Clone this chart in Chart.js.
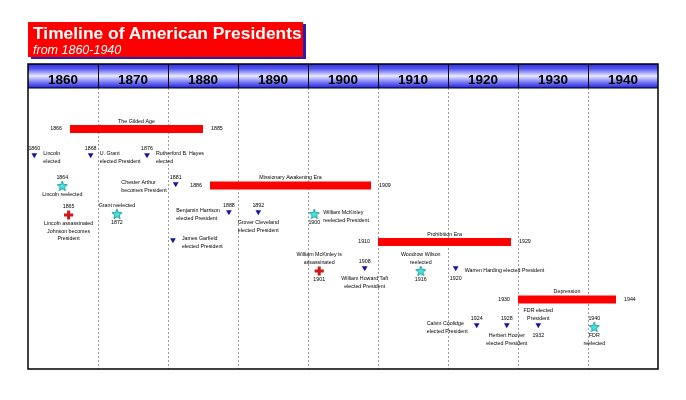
<!DOCTYPE html>
<html>
<head>
<meta charset="utf-8">
<script src="https://cdn.jsdelivr.net/npm/chart.js@4.4.0/dist/chart.umd.min.js"></script>
<style>
  body { margin: 0; background: #fff; }
  #wrap { position: relative; width: 686px; height: 400px; }
  #title {
    position: absolute; left: 28px; top: 22px; width: 275px; height: 35px;
    background: #ff0000; box-shadow: 3px 2px 0 #2222b0;
    font-family: Arial, "Liberation Sans", sans-serif; color: #fff;
  }
  #title .main { position: absolute; left: 5px; top: 2.7px; font-size: 17.4px; line-height: 17.4px; font-weight: bold; white-space: nowrap; }
  #title .sub { position: absolute; left: 5px; top: 22.4px; font-size: 12.5px; line-height: 12.5px; font-style: italic; white-space: nowrap; }
</style>
</head>
<body>
<div id="wrap">
  <canvas id="timeline" width="686" height="400"></canvas>
  <div id="title"><span class="main">Timeline of American Presidents</span><span class="sub">from 1860-1940</span></div>
</div>
<script>
// decade columns in the header
const decades = [1860, 1870, 1880, 1890, 1900, 1910, 1920, 1930, 1940];

// eras (red bars)
const eraNames = ['The Gilded Age', 'Missionary Awakening Era', 'Prohibition Era', 'Depression'];
const eraStart = [1866, 1886, 1910, 1930];
const eraEnd   = [1885, 1909, 1929, 1944];
const eraLane  = [4.1, 9.75, 15.4, 21.15];

// events
const eventYear = ['1860', '1868', '1876', '1864', '1865', '1872', '1881', '', '1888', '1892',
                   '1900', '1901', '1908', '1916', '1920', '1924', '1928', '1932', '1940'];
const eventX    = [1860.9, 1868.95, 1877.0, 1864.9, 1865.8, 1872.7, 1881.1, 1880.7, 1888.7, 1892.9,
                   1900.9, 1901.6, 1908.1, 1916.1, 1921.1, 1924.1, 1928.4, 1932.9, 1940.9];
const eventLane = [6.7, 6.7, 6.7, 9.8, 12.7, 12.6, 9.6, 15.2, 12.4, 12.4,
                   12.6, 18.3, 18.0, 18.3, 18.0, 23.7, 23.7, 23.7, 23.9];
const eventKind = ['tri', 'tri', 'tri', 'star', 'cross', 'star', 'tri', 'tri', 'tri', 'tri',
                   'star', 'cross', 'tri', 'star', 'tri', 'tri', 'tri', 'tri', 'star'];
const eventText = [
  'Lincoln\nelected',
  'U. Grant\nelected President',
  'Rutherford B. Hayes\nelected',
  'Lincoln reelected',
  'Lincoln assassinated\nJohnson becomes\nPresident',
  'Grant reelected',
  'Chester Arthur\nbecomes President',
  'James Garfield\nelected President',
  'Benjamin Harrison\nelected President',
  'Grover Cleveland\nelected President',
  'William McKinley\nreelected President',
  'William McKinley is\nassassinated',
  'William Howard Taft\nelected President',
  'Woodrow Wilson\nreelected',
  'Warren Harding elected President',
  'Calvin Coolidge\nelected President',
  'Herbert Hoover\nelected President',
  'FDR elected\nPresident',
  'FDR\nreelected'
];

// where the labels go around each marker
const textSide = ['right', 'right', 'right', 'below', 'below', 'above', 'left', 'right', 'left', 'below',
                  'right', 'above', 'below', 'above', 'right', 'left', 'below', 'above', 'below'];
const yearSide = ['above', 'above', 'above', 'above', 'above', 'below', 'above', 'none', 'above', 'above',
                  'below', 'below', 'above', 'below', 'below', 'above', 'above', 'below', 'above'];

const FONT = 'Arial, "Liberation Sans", sans-serif';
const SMALL = '5.3px ' + FONT;

function starImage() {
  const c = document.createElement('canvas');
  c.width = c.height = 12;
  const g = c.getContext('2d');
  g.beginPath();
  for (let i = 0; i < 10; i++) {
    const r = i % 2 ? 2.3 : 5.3;
    const a = -Math.PI / 2 + i * Math.PI / 5;
    g.lineTo(6 + r * Math.cos(a), 6.4 + r * Math.sin(a));
  }
  g.closePath();
  g.fillStyle = '#44e4dc';
  g.fill();
  g.strokeStyle = '#0c8c8c';
  g.lineWidth = 0.8;
  g.stroke();
  return c;
}

function pointsOf(kind) {
  const pts = [];
  eventX.forEach((x, i) => { if (eventKind[i] === kind) pts.push({ x: x, y: eventLane[i] }); });
  return pts;
}

const eraSets = eraNames.map((name, i) => ({
  type: 'line',
  label: name,
  data: [{ x: eraStart[i], y: eraLane[i] }, { x: eraEnd[i], y: eraLane[i] }],
  borderColor: '#ff0000',
  borderWidth: 8,
  borderCapStyle: 'butt',
  pointRadius: 0,
  showLine: true
}));

const markerSets = [
  { label: 'tri', data: pointsOf('tri'), pointStyle: 'triangle', pointRotation: 180, pointRadius: 3.3,
    backgroundColor: '#16169c', borderWidth: 0 },
  { label: 'star', data: pointsOf('star'), pointStyle: starImage(), pointRadius: 5 },
  { label: 'cross', data: pointsOf('cross'), pointStyle: 'cross', pointRadius: 4.6,
    borderColor: '#d01818', borderWidth: 3 }
];

// header band + frame
const headerPlugin = {
  id: 'header',
  afterDraw(chart) {
    const { ctx, chartArea: a, scales: { x } } = chart;
    const top = a.top - 24;
    ctx.save();
    const g = ctx.createLinearGradient(0, top, 0, a.top);
    g.addColorStop(0, '#2e2ee6');
    g.addColorStop(0.2, '#5656f0');
    g.addColorStop(0.5, '#e8e8ff');
    g.addColorStop(0.75, '#7c7cf4');
    g.addColorStop(1, '#2222e0');
    ctx.fillStyle = g;
    ctx.fillRect(a.left, top, a.right - a.left, 24);
    ctx.strokeStyle = '#000';
    ctx.lineWidth = 1;
    decades.forEach(d => {
      const px = Math.round(x.getPixelForValue(d + 10)) + 0.5;
      if (px < a.right - 2) {
        ctx.beginPath(); ctx.moveTo(px, top); ctx.lineTo(px, a.top); ctx.stroke();
      }
    });
    ctx.beginPath(); ctx.moveTo(a.left, a.top); ctx.lineTo(a.right, a.top); ctx.stroke();
    ctx.lineWidth = 1.5;
    ctx.strokeRect(a.left, top, a.right - a.left, a.bottom - top);
    ctx.fillStyle = '#000';
    ctx.font = 'bold 13.5px ' + FONT;
    ctx.textAlign = 'center';
    ctx.textBaseline = 'alphabetic';
    decades.forEach(d => {
      const cx = (x.getPixelForValue(d) + x.getPixelForValue(d + 10)) / 2;
      ctx.fillText(String(d), cx, top + 19.5);
    });
    ctx.restore();
  }
};

// era and event labels
const labelPlugin = {
  id: 'labels',
  afterDatasetsDraw(chart) {
    const { ctx, scales: { x, y } } = chart;
    ctx.save();
    ctx.font = SMALL;
    ctx.fillStyle = '#000';
    ctx.textBaseline = 'middle';
    const LH = 7.6;

    eraNames.forEach((name, i) => {
      const x0 = x.getPixelForValue(eraStart[i]), x1 = x.getPixelForValue(eraEnd[i]);
      const py = y.getPixelForValue(eraLane[i]);
      ctx.textAlign = 'center';
      ctx.fillText(name, (x0 + x1) / 2, py - 7.5);
      ctx.textAlign = 'right';
      ctx.fillText(String(eraStart[i]), x0 - 8, py);
      ctx.textAlign = 'left';
      ctx.fillText(String(eraEnd[i]), x1 + 8, py);
    });

    eventX.forEach((ev, i) => {
      const mx = x.getPixelForValue(ev), my = y.getPixelForValue(eventLane[i]);
      const tri = eventKind[i] === 'tri';
      const upGap = tri ? 6.8 : 8.5, downGap = tri ? 10.5 : 8.5;
      if (yearSide[i] === 'above') { ctx.textAlign = 'center'; ctx.fillText(eventYear[i], mx, my - upGap); }
      if (yearSide[i] === 'below') { ctx.textAlign = 'center'; ctx.fillText(eventYear[i], mx, my + downGap); }

      const lines = eventText[i].split('\n');
      const side = textSide[i];
      if (side === 'below') {
        ctx.textAlign = 'center';
        lines.forEach((t, k) => ctx.fillText(t, mx, my + downGap + k * LH));
      } else if (side === 'above') {
        ctx.textAlign = 'center';
        lines.forEach((t, k) => ctx.fillText(t, mx, my - upGap - (lines.length - 1 - k) * LH));
      } else {
        const cy = my + 2.5 - (lines.length - 1) * LH / 2;
        ctx.textAlign = 'left';
        let left = mx + 9;
        if (side === 'left') {
          const w = Math.max(...lines.map(t => ctx.measureText(t).width));
          left = mx - 9 - w;
        }
        lines.forEach((t, k) => ctx.fillText(t, left, cy + k * LH));
      }
    });
    ctx.restore();
  }
};

new Chart(document.getElementById('timeline').getContext('2d'), {
  type: 'scatter',
  data: { datasets: [...eraSets, ...markerSets] },
  options: {
    responsive: false,
    animation: false,
    devicePixelRatio: 1,
    layout: { padding: { left: 28, right: 28, top: 88, bottom: 31 } },
    plugins: { legend: { display: false }, tooltip: { enabled: false } },
    scales: {
      x: {
        type: 'linear', min: 1860, max: 1950, position: 'top',
        afterFit(s) { s.height = 0; },
        ticks: { display: false, stepSize: 10 },
        grid: {
          drawTicks: false, lineWidth: 1,
          color: c => (c.tick && c.tick.value > 1860 && c.tick.value < 1950) ? '#9a9a9a' : 'rgba(0,0,0,0)'
        },
        border: { display: false, dash: [2, 2] }
      },
      y: { min: 0, max: 28.1, reverse: true, display: false }
    }
  },
  plugins: [headerPlugin, labelPlugin]
});
</script>
</body>
</html>
